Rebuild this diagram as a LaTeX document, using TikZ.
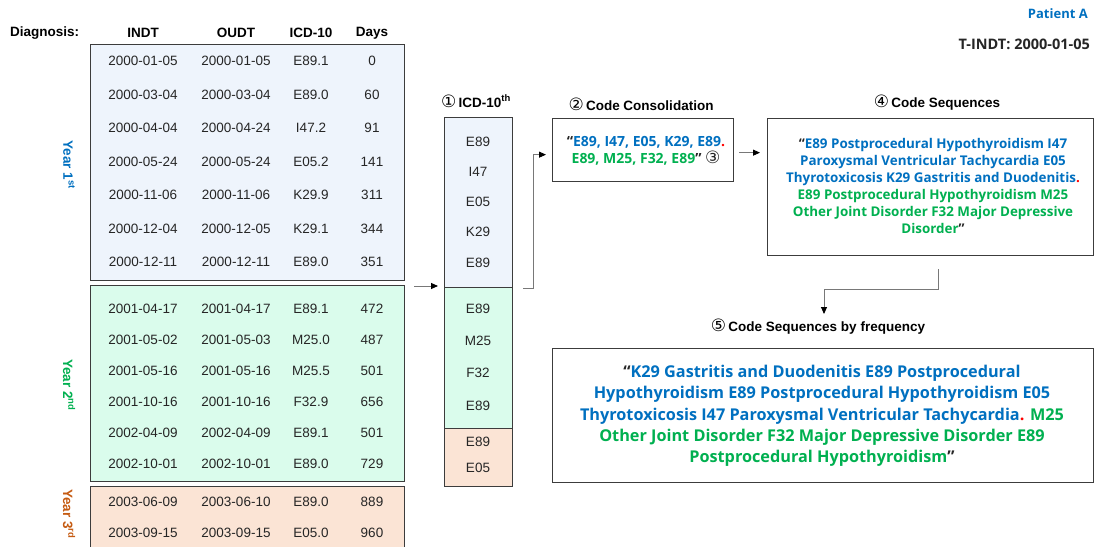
\documentclass[tikz,border=0pt]{standalone}
\usepackage{fontspec}
\setmainfont{Liberation Sans}
\newfontfamily\kf{Open Sans}
\newfontfamily\cf{DejaVu Sans}
\usetikzlibrary{arrows.meta}
\definecolor{cblue}{RGB}{0,112,192}
\definecolor{cgreen}{RGB}{0,176,80}
\definecolor{corange}{RGB}{197,90,17}
\definecolor{fblue}{RGB}{238,244,252}
\definecolor{fgreen}{RGB}{218,252,236}
\definecolor{forange}{RGB}{251,228,213}
\definecolor{bordc}{RGB}{60,60,60}
\definecolor{txt}{RGB}{38,38,38}
\definecolor{lnc}{RGB}{120,120,120}
\newcommand{\circnum}[1]{{\cf\mdseries\fontsize{17}{15}\selectfont #1}}
\begin{document}
\begin{tikzpicture}[x=1pt,y=-1pt,
  box/.style={draw=bordc,line width=1.3pt,inner sep=0pt,anchor=north west},
  outbox/.style={draw=bordc,line width=1.3pt,inner sep=0pt,anchor=north west,fill=white},
  cell/.style={font=\fontsize{13.5}{15}\selectfont,text=txt,inner sep=0pt},
  hdr/.style={font=\bfseries\fontsize{13.5}{15}\selectfont,inner sep=0pt},
  ylab/.style={font=\bfseries\fontsize{13.5}{15}\selectfont,inner sep=0pt,rotate=-90},
  seqtxt/.style={font=\kf\bfseries\fontsize{13.4}{17}\selectfont,align=center,inner sep=0pt},
  conn/.style={draw=lnc,line width=0.9pt,-{Triangle[length=7pt,width=6pt,color=black]}}
]
\clip (0,0) rectangle (1094,546);
\fill[white] (0,0) rectangle (1094,546);

% header
\node[hdr,anchor=west] (hd) at (10,33) {Diagnosis:};
\node[hdr] (h1) at (143,33) {INDT};
\node[hdr] (h2) at (236,33) {OUDT};
\node[hdr] (h3) at (311,33) {ICD-10};
\node[hdr] (h4) at (372,33) {Days};

% year boxes
\node[box,fill=fblue,minimum width=314pt,minimum height=236pt] (y1) at (90,44) {};
\node[box,fill=fgreen,minimum width=314pt,minimum height=196pt] (y2) at (90,285) {};
\node[box,fill=forange,minimum width=314pt,minimum height=80pt] (y3) at (90,486) {};

\node[ylab,text=cblue] (ly1) at (69,165) {Year 1\textsuperscript{st}};
\node[ylab,text=cgreen] (ly2) at (69,385) {Year 2\textsuperscript{nd}};
\node[ylab,text=corange] (ly3) at (69,514) {Year 3\textsuperscript{rd}};

% rows year 1
\foreach \a/\b/\c/\d [count=\i from 0] in {2000-01-05/2000-01-05/E89.1/0,2000-03-04/2000-03-04/E89.0/60,2000-04-04/2000-04-24/I47.2/91,2000-05-24/2000-05-24/E05.2/141,2000-11-06/2000-11-06/K29.9/311,2000-12-04/2000-12-05/K29.1/344,2000-12-11/2000-12-11/E89.0/351}{
  \node[cell] (ra\i) at (143,61+33.5*\i) {\a};
  \node[cell] (rb\i) at (236,61+33.5*\i) {\b};
  \node[cell] (rc\i) at (311,61+33.5*\i) {\c};
  \node[cell] (rd\i) at (372,61+33.5*\i) {\d};
}
% rows year 2
\foreach \a/\b/\c/\d [count=\i from 0] in {2001-04-17/2001-04-17/E89.1/472,2001-05-02/2001-05-03/M25.0/487,2001-05-16/2001-05-16/M25.5/501,2001-10-16/2001-10-16/F32.9/656,2002-04-09/2002-04-09/E89.1/501,2002-10-01/2002-10-01/E89.0/729}{
  \node[cell] (sa\i) at (143,309+31*\i) {\a};
  \node[cell] (sb\i) at (236,309+31*\i) {\b};
  \node[cell] (sc\i) at (311,309+31*\i) {\c};
  \node[cell] (sd\i) at (372,309+31*\i) {\d};
}
% rows year 3
\foreach \a/\b/\c/\d [count=\i from 0] in {2003-06-09/2003-06-10/E89.0/889,2003-09-15/2003-09-15/E05.0/960}{
  \node[cell] (ta\i) at (143,502+31*\i) {\a};
  \node[cell] (tb\i) at (236,502+31*\i) {\b};
  \node[cell] (tc\i) at (311,502+31*\i) {\c};
  \node[cell] (td\i) at (372,502+31*\i) {\d};
}

% ICD column
\node[hdr] (icdt) at (476,101) {\circnum{①}\,ICD-10\textsuperscript{th}};
\node[box,fill=fblue,minimum width=68pt,minimum height=170pt] (cb) at (444,117) {};
\node[box,fill=fgreen,minimum width=68pt,minimum height=141pt] (cg) at (444,287) {};
\node[box,fill=forange,minimum width=68pt,minimum height=58pt] (co) at (444,428) {};
\foreach \t/\yy [count=\i] in {E89/142,I47/172,E05/202,K29/232,E89/263,E89/309,M25/341,F32/373,E89/406,E89/442,E05/468}{
  \node[cell] (cc\i) at (478,\yy) {\t};
}

% consolidation
\node[hdr] (const) at (641,104) {\circnum{②}\,Code Consolidation};
\node[outbox,minimum width=181pt,minimum height=63pt] (cons) at (552,118) {};
\node[seqtxt,font=\kf\bfseries\fontsize{14}{16.5}\selectfont] (const2) at (646,151) {\textcolor{txt}{“}\textcolor{cblue}{E89, I47, E05, K29, E89}\textcolor{red}{.}\\
\textcolor{cgreen}{E89, M25, F32, E89}\textcolor{txt}{”} \circnum{\textcolor{txt}{③}}};

% code sequences
\node[hdr] (seqt) at (937,103) {\circnum{④}\,Code Sequences};
\node[outbox,minimum width=326pt,minimum height=137pt] (seq) at (767,118) {};
\node[seqtxt] (seqx) at (933,186) {\textcolor{txt}{“}\textcolor{cblue}{E89 Postprocedural Hypothyroidism I47}\\
\textcolor{cblue}{Paroxysmal Ventricular Tachycardia E05}\\
\textcolor{cblue}{Thyrotoxicosis K29 Gastritis and Duodenitis}\textcolor{red}{.}\\
\textcolor{cgreen}{E89 Postprocedural Hypothyroidism M25}\\
\textcolor{cgreen}{Other Joint Disorder F32 Major Depressive}\\
\textcolor{cgreen}{Disorder}\textcolor{txt}{”}};

% frequency
\node[hdr] (freqt) at (818,327) {\circnum{⑤}\,Code Sequences by frequency};
\node[outbox,minimum width=541pt,minimum height=134pt] (freq) at (552,348) {};
\node[seqtxt,font=\kf\bfseries\fontsize{16.25}{21.25}\selectfont] (freqx) at (822,416) {\textcolor{txt}{“}\textcolor{cblue}{K29 Gastritis and Duodenitis E89 Postprocedural}\\
\textcolor{cblue}{Hypothyroidism E89 Postprocedural Hypothyroidism E05}\\
\textcolor{cblue}{Thyrotoxicosis I47 Paroxysmal Ventricular Tachycardia}\textcolor{red}{.} \textcolor{cgreen}{M25}\\
\textcolor{cgreen}{Other Joint Disorder F32 Major Depressive Disorder E89}\\
\textcolor{cgreen}{Postprocedural Hypothyroidism}\textcolor{txt}{”}};

% patient
\node[font=\kf\bfseries\fontsize{13}{15}\selectfont,text=cblue,anchor=east,inner sep=0pt] (pat) at (1088,14) {Patient A};
\node[font=\kf\bfseries\fontsize{14.5}{15}\selectfont,text=txt,anchor=east,inner sep=0pt] (tindt) at (1090,44) {T-INDT: 2000-01-05};

% connectors
\draw[conn] ([xshift=-30pt,yshift=1pt]cg.north west) -- ([xshift=-6pt,yshift=1pt]cg.north west);
\draw[conn] ([xshift=10pt]cb.south east) -- ++(10,0) |- ([xshift=-6pt,yshift=-4.5pt]cons.west);
\draw[conn] ([xshift=5pt,yshift=-2.5pt]cons.east) -- ([xshift=-7pt,yshift=34.5pt]seq.west);
\coordinate (fa) at (824,314);
\draw[conn] ([xshift=8pt,yshift=-13pt]seq.south) -- ++(0,20) -| (fa);
\end{tikzpicture}
\end{document}
